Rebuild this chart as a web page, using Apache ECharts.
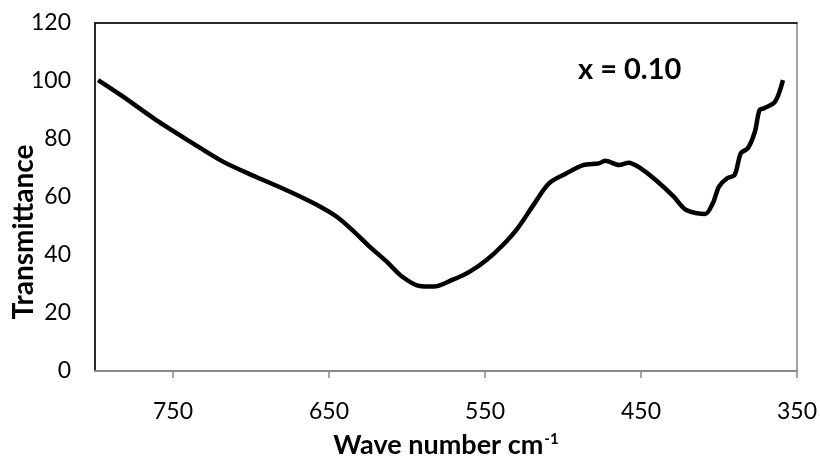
<!DOCTYPE html>
<html lang="en">
<head>
    <meta charset="UTF-8">
    <title>Transmittance</title>
    <style>
        html, body { margin: 0; padding: 0; background: #fff; }
        #main { width: 820px; height: 459px; }
    </style>
</head>
<body>
    <div id="main"></div>
</body>
<script src="https://cdn.jsdelivr.net/npm/echarts@6/dist/echarts.min.js"></script>
<script>
    var main = echarts.init(document.getElementById('main'));

    // wave number (cm-1) and transmittance
    var waveNumber = [798, 782, 761, 739, 718, 697, 675, 655, 645, 635, 624, 613, 603, 592, 583,
        571, 560, 549, 539, 529, 519, 509, 498, 487, 477, 473, 464, 458, 450, 440, 429, 421,
        409, 404, 400, 395, 390, 386, 381.5, 377, 374, 371, 364, 359];
    var transmittance = [100.3, 94.6, 86.6, 79.1, 72.2, 67, 61.8, 56.5, 53.2, 48.6, 42.9, 37.7, 32.5, 29.3, 29.1,
        31.4, 34.2, 38.3, 43.2, 49.3, 57.2, 64.7, 68.1, 71.0, 71.6, 72.5, 71.0, 71.8, 69.8, 65.6, 60.1, 55.5,
        54.1, 57.8, 63.6, 66.4, 67.6, 75.1, 76.8, 82.5, 90, 90.6, 92.9, 100.3];
    var xTicks = [350, 450, 550, 650, 750];
    var yTicks = [0, 20, 40, 60, 80, 100, 120];

    var points = waveNumber.map(function (w, i) {
        return [w, transmittance[i]];
    });

    var font = 'Lato, "Open Sans", sans-serif';

    var option = {
        backgroundColor: '#fff',
        animation: false,
        grid: {
            left: 95,
            right: 23,
            top: 23,
            bottom: 88,
            outerBoundsMode: 'none',
            containLabel: false,
            show: true,
            borderColor: '#898989',
            borderWidth: 1.5
        },
        graphic: [{
            type: 'text',
            x: 578,
            y: 70,
            style: {
                text: 'x = 0.10',
                fontFamily: font,
                fontWeight: 'bold',
                fontSize: 29,
                fill: '#000',
                textVerticalAlign: 'middle'
            }
        }, {
            // y axis title, placed where the reference has it
            type: 'text',
            x: 24,
            y: 232,
            rotation: Math.PI / 2,
            style: {
                text: 'Transmittance',
                fontFamily: font,
                fontWeight: 'bold',
                fontSize: 28,
                fill: '#000',
                textAlign: 'center',
                textVerticalAlign: 'middle'
            }
        }],
        xAxis: [{
            type: 'value',
            inverse: true,
            min: xTicks[0],
            max: 800,
            interval: 100,
            name: '{b|Wave number cm}{s|-1}',
            nameLocation: 'middle',
            nameGap: 61,
            nameTextStyle: {
                rich: {
                    b: { fontFamily: font, fontWeight: 'bold', fontSize: 27, color: '#000' },
                    s: { fontFamily: font, fontWeight: 'bold', fontSize: 15, color: '#000', verticalAlign: 'top', padding: [0, 0, 12, 1] }
                }
            },
            axisLine: { lineStyle: { color: '#898989', width: 2 } },
            axisTick: { show: true, length: 7, lineStyle: { color: '#898989', width: 1.5 } },
            axisLabel: {
                showMaxLabel: false,
                margin: 29,
                fontFamily: font,
                fontSize: 23,
                color: '#000',
                formatter: function (v) {
                    return xTicks.indexOf(v) >= 0 ? String(v) : '';
                }
            },
            splitLine: { show: false }
        }, {
            type: 'value',
            position: 'top',
            inverse: true,
            min: 350,
            max: 800,
            axisLine: { show: true, lineStyle: { color: '#000', width: 1.5 } },
            axisTick: { show: false },
            axisLabel: { show: false },
            splitLine: { show: false }
        }],
        yAxis: {
            type: 'value',
            min: yTicks[0],
            max: yTicks[yTicks.length - 1],
            interval: 20,
            axisLine: { show: true, lineStyle: { color: '#000', width: 1.5 } },
            axisTick: { show: false },
            axisLabel: {
                margin: 24,
                fontFamily: font,
                fontSize: 23,
                color: '#000'
            },
            splitLine: { show: false }
        },
        series: [{
            type: 'line',
            xAxisIndex: 0,
            data: points,
            smooth: 0.3,
            showSymbol: false,
            lineStyle: { color: '#000', width: 4.5 }
        }]
    };
    main.setOption(option);
</script>
</html>
